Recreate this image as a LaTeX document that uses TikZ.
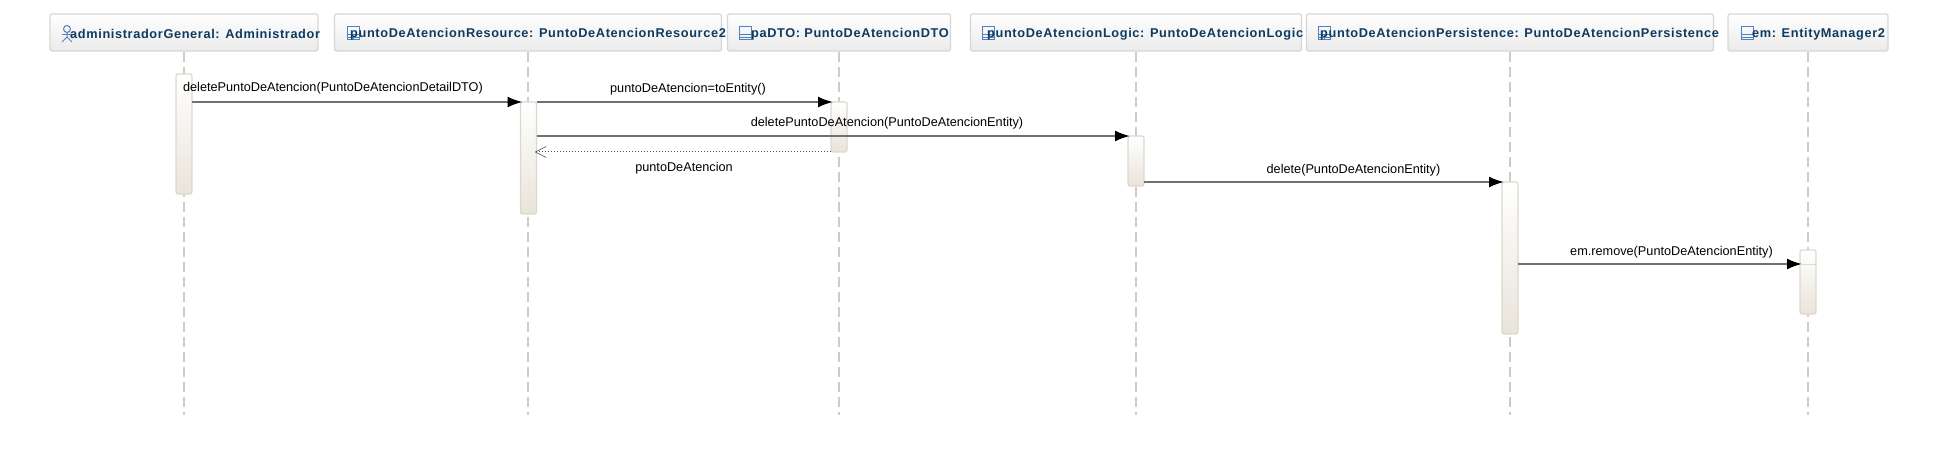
\documentclass[tikz,border=0pt]{standalone}
\usepackage{fontspec}
\setmainfont{Liberation Sans}
\newfontfamily\headfont[LetterSpace=5]{Liberation Sans}
\usepackage{xcolor}
\definecolor{headtext}{HTML}{0F3A5F}
\definecolor{headline}{HTML}{D6D6D6}
\definecolor{activline}{HTML}{DDD8CB}
\definecolor{activfill}{HTML}{E9E4DA}
\definecolor{iconblue}{HTML}{4F81BD}
\definecolor{msgline}{HTML}{707070}
\usetikzlibrary{arrows.meta, positioning, calc}

\begin{document}
\begin{tikzpicture}[
    x=1pt, y=-1pt,
    headbox/.style={
        draw=headline, line width=1.2pt, rounded corners=2pt,
        top color=white, bottom color=black!8,
        minimum height=37pt, inner sep=0pt
    },
    headlabel/.style={
        anchor=west, inner sep=0pt, text=headtext,
        font=\headfont\bfseries\fontsize{12.75}{14}\selectfont
    },
    lifeline/.style={draw=black!20, line width=2pt, dash pattern=on 10pt off 5pt},
    activbar/.style={
        draw=activline, line width=1.2pt, rounded corners=2pt,
        top color=white, bottom color=activfill,
        minimum width=16pt, inner sep=0pt, outer sep=0pt
    },
    msg/.style={-{Latex[length=15pt,width=11pt,black]}, draw=msgline, line width=1.8pt, shorten >=-2pt},
    retour/.style={-{Straight Barb[length=11pt,width=11pt,black!70,line width=.6pt]}, draw=black!70, line width=1pt, dotted, shorten >=-2pt},
    msglabel/.style={inner sep=0pt, font=\fontsize{12.7}{14}\selectfont},
    classicon/.pic={
        \draw[iconblue, line width=1pt] (-6,-6.5) rectangle (6,6.5);
        \draw[iconblue, line width=1pt] (-6,1) -- (6,1);
        \draw[iconblue, line width=1pt] (-6,4.5) -- (6,4.5);
        \draw[iconblue, line width=1pt] (0,1) -- (0,6.5);
    },
    dtoicon/.pic={
        \draw[iconblue, line width=1pt] (-6,-6.5) rectangle (6,6.5);
        \draw[iconblue, line width=1pt] (-6,1) -- (6,1);
        \draw[iconblue, line width=1pt] (-6,4.5) -- (6,4.5);
    }
]
\useasboundingbox (0,0) rectangle (1938,465);

\coordinate (e1) at (184,415);
\coordinate (e2) at (528,415);
\coordinate (e3) at (839,415);
\coordinate (e4) at (1136,415);
\coordinate (e5) at (1510,415);
\coordinate (e6) at (1808,415);

% heads
\node[headbox, minimum width=268pt] (h1) at (184,32.5) {};
\node[headbox, minimum width=387pt] (h2) at (528,32.5) {};
\node[headbox, minimum width=223pt] (h3) at (839,32.5) {};
\node[headbox, minimum width=331pt] (h4) at (1136,32.5) {};
\node[headbox, minimum width=407pt] (h5) at (1510,32.5) {};
\node[headbox, minimum width=160pt] (h6) at (1808,32.5) {};

\draw[lifeline] (h1.south) -- (e1);
\draw[lifeline] (h2.south) -- (e2);
\draw[lifeline] (h3.south) -- (e3);
\draw[lifeline] (h4.south) -- (e4);
\draw[lifeline] (h5.south) -- (e5);
\draw[lifeline] (h6.south) -- (e6);

% icons
\draw[iconblue, line width=1pt] (67,29) circle (3.5);
\draw[iconblue, line width=1pt] (67,32.5) -- (67,37) -- (62,42);
\draw[iconblue, line width=1pt] (67,37) -- (72,42);
\draw[iconblue, line width=1pt] (62,35) -- (72,35);
\pic at (353,33.5) {classicon};
\pic at (745,33.5) {dtoicon};
\pic at (988,33.5) {classicon};
\pic at (1324,33.5) {classicon};
\pic at (1747,33.5) {dtoicon};

\node[headlabel] (t1) at (70,34) {administradorGeneral: Administrador};
\node[headlabel] (t2) at (350,34) {puntoDeAtencionResource: PuntoDeAtencionResource2};
\node[headlabel] (t3) at (751,34) {paDTO: PuntoDeAtencionDTO};
\node[headlabel] (t4) at (987,34) {puntoDeAtencionLogic: PuntoDeAtencionLogic};
\node[headlabel] (t5) at (1320,34) {puntoDeAtencionPersistence: PuntoDeAtencionPersistence};
\node[headlabel] (t6) at (1752,34) {em: EntityManager2};

% activations
\node[activbar, minimum height=120pt] (a1) at (184,134) {};
\node[activbar, minimum height=112pt] (a2) at (528.5,158) {};
\node[activbar, minimum height=50pt] (a3) at (839,127) {};
\node[activbar, minimum height=50pt] (a4) at (1136,161) {};
\node[activbar, minimum height=152pt] (a5) at (1510,258) {};
\node[activbar, minimum height=64pt] (a6) at (1808,282) {};
\coordinate (m6end) at (1800,264);

% messages
\draw[msg] (a1.east |- a2.north west) -- (a2.north west);
\draw[msg] (a2.north east) -- (a3.north west);
\draw[msg] (a2.east |- a4.north west) -- (a4.north west);
\draw[retour] (a3.south west) -- (a3.south west -| a2.east);
\draw[msg] (a4.east |- a5.north west) -- (a5.north west);
\draw[msg] (a5.east |- m6end) -- (m6end);
\draw[draw=activline, line width=1pt] (m6end) -- (a6.east |- m6end);

\node[msglabel] (l1) at (333,88) {deletePuntoDeAtencion(PuntoDeAtencionDetailDTO)};
\node[msglabel] (l2) at (688,89) {puntoDeAtencion=toEntity()};
\node[msglabel] (l3) at (887,123) {deletePuntoDeAtencion(PuntoDeAtencionEntity)};
\node[msglabel] (l4) at (684,168) {puntoDeAtencion};
\node[msglabel] (l5) at (1353.5,170) {delete(PuntoDeAtencionEntity)};
\node[msglabel] (l6) at (1671.5,252) {em.remove(PuntoDeAtencionEntity)};
\end{tikzpicture}
\end{document}
